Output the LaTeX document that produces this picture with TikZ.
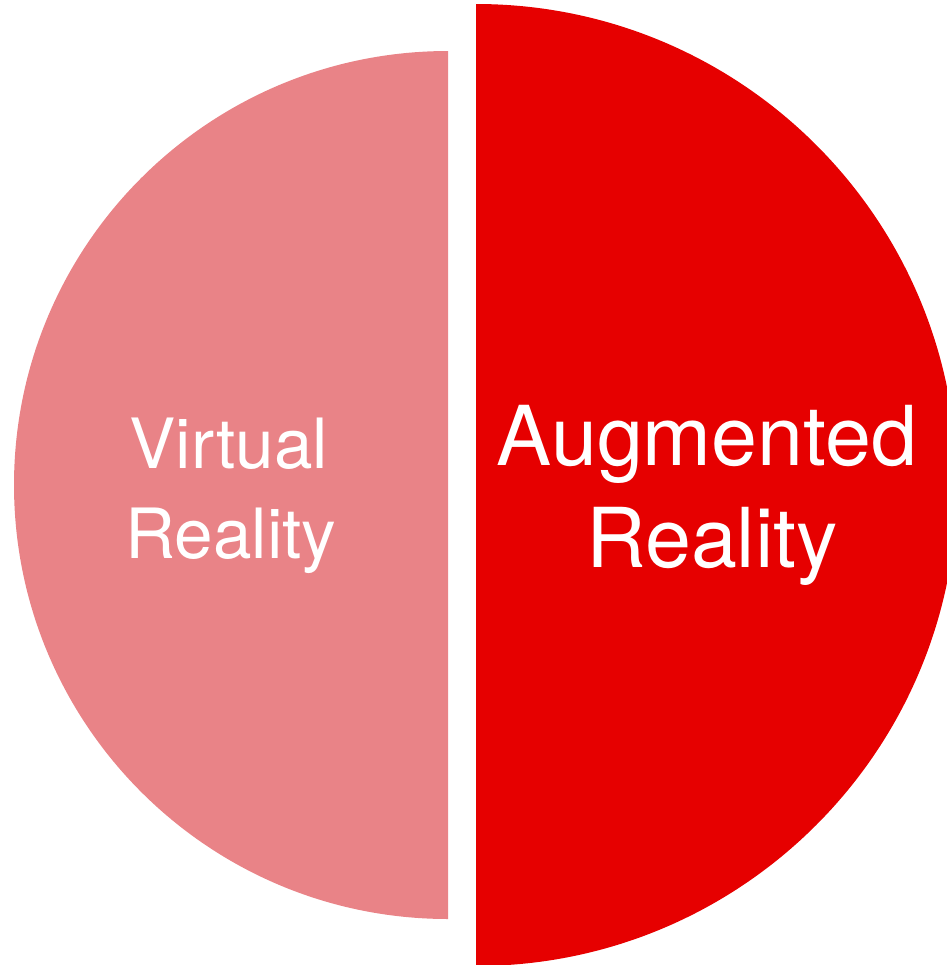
\documentclass[tikz,border=0pt]{standalone}
\usepackage{fontspec}
\setmainfont{TeX Gyre Heros}
\definecolor{vrpink}{RGB}{233,131,135}
\definecolor{arred}{RGB}{230,0,0}
\begin{document}
\begin{tikzpicture}[x=0.75pt,y=-0.75pt,
  lbl/.style={text=white, inner sep=0pt, anchor=base},
  vrtext/.style={lbl, font=\fontsize{52}{52}\selectfont},
  artext/.style={lbl, font=\fontsize{62}{62}\selectfont}]
\useasboundingbox (0,0) rectangle (947,965);
\begin{scope}
  \clip (0,0) rectangle (448,965);
  \fill[vrpink] (448,485) circle[radius=434];
\end{scope}
\begin{scope}
  \clip (476,0) rectangle (947,965);
  \fill[arred] (476,485) circle[radius=481];
\end{scope}
\node[vrtext] (vr1) at (229,468) {Virtual};
\node[vrtext] (vr2) at (231,558) {Reality};
\node[artext] (ar1) at (707,465) {Augmented};
\node[artext] (ar2) at (712,567) {Reality};
\end{tikzpicture}
\end{document}
